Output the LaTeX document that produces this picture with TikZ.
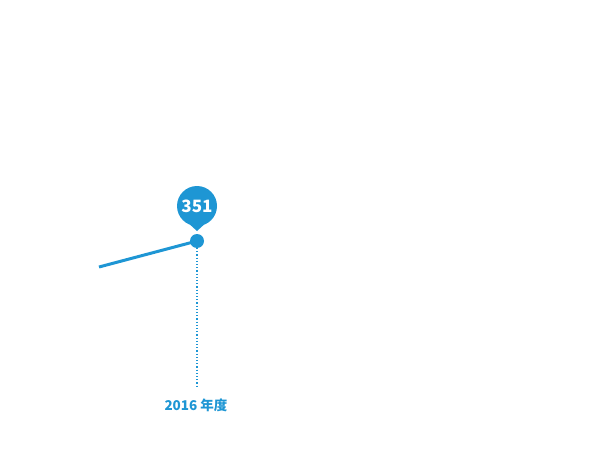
\documentclass[tikz,border=0pt]{standalone}
\usepackage{fontspec}
\newfontfamily\cjk{Noto Sans CJK JP}
\usetikzlibrary{positioning}
\definecolor{chartblue}{RGB}{30,150,212}
\begin{document}
\begin{tikzpicture}[x=1pt,y=-1pt,inner sep=0pt,outer sep=0pt,
datadot/.style={fill=chartblue,circle,minimum size=14pt},
bubble/.style={fill=chartblue,circle,minimum size=40pt,text=white,font=\cjk\bfseries\fontsize{17}{17}\selectfont},
yearlabel/.style={text=chartblue,font=\cjk\bfseries\fontsize{13.5}{13.5}\selectfont}]
\useasboundingbox (0,0) rectangle (616,460);
\coordinate (start) at (99,267);
\node[datadot] (pt2016) at (197,241) {};
\node[bubble] (val2016) at (197,206) {351};
\fill[chartblue] (val2016.-70) -- (197,231) -- (val2016.-110) -- cycle;
\draw[chartblue,line width=3pt] (start) -- (pt2016.center);
\node[yearlabel] (yr2016) at (196,405) {2016 年度};
\coordinate (guideend) at (197,386);
\draw[chartblue,line width=1.2pt,dotted] (pt2016.south) -- (guideend);
\end{tikzpicture}
\end{document}
